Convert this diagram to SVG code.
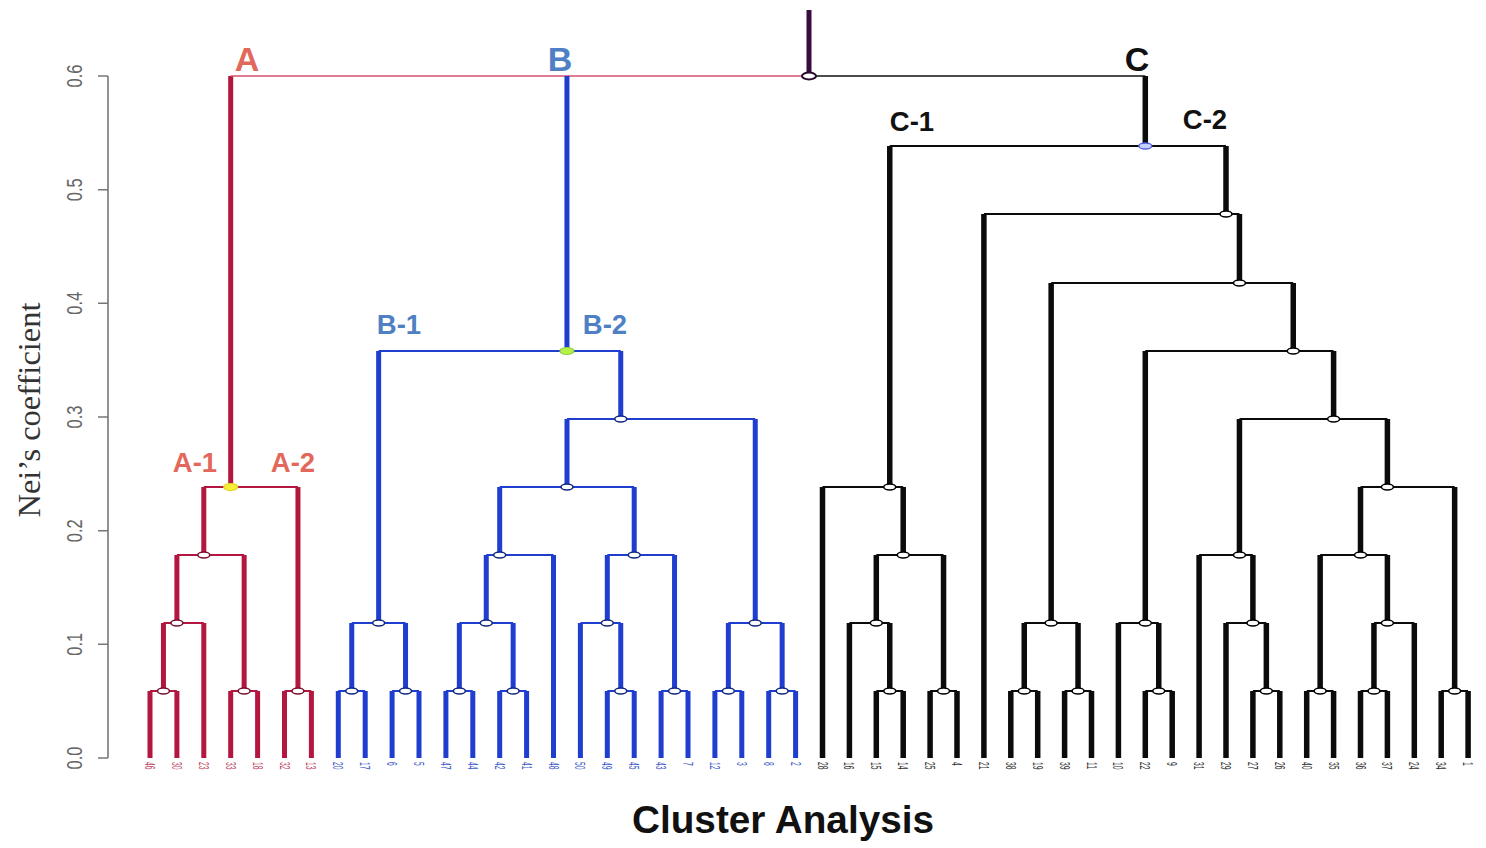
<svg xmlns="http://www.w3.org/2000/svg" width="1486" height="848" viewBox="0 0 1486 848">
<style>
.v{fill:none;stroke-width:5;stroke-linecap:butt}
.h{fill:none;stroke-width:2}
.red{stroke:#b3173f}.blue{stroke:#1f3dcf}.blk{stroke:#0b0b0b;stroke-width:5.5}.blk.h{stroke-width:2}
.mk{stroke-width:1.6}
.mr{fill:#fff;stroke:#7a1030}.mb{fill:#fff;stroke:#13287f}.mk0{fill:#fff;stroke:#000}
.tick{font-family:"Liberation Sans",Arial,sans-serif;font-size:16.5px;fill:#666}
.lf{font-family:"Liberation Sans",Arial,sans-serif;font-size:9px}
.lr{fill:#c04a68}.lb{fill:#3f5cc8}.lk{fill:#333}
.cl{font-family:"Liberation Sans",Arial,sans-serif;font-weight:bold}
</style>
<rect width="1486" height="848" fill="#fff"/>
<g id="axis">
<path d="M108 76V758 M98 76H108 M98 189.7H108 M98 303.3H108 M98 417H108 M98 530.7H108 M98 644.3H108 M98 758H108" fill="none" stroke="#777" stroke-width="1.6"/>
<text class="tick" text-anchor="middle" transform="translate(82,758) rotate(-90) scale(1,1.35)">0.0</text>
<text class="tick" text-anchor="middle" transform="translate(82,644.3) rotate(-90) scale(1,1.35)">0.1</text>
<text class="tick" text-anchor="middle" transform="translate(82,530.7) rotate(-90) scale(1,1.35)">0.2</text>
<text class="tick" text-anchor="middle" transform="translate(82,417) rotate(-90) scale(1,1.35)">0.3</text>
<text class="tick" text-anchor="middle" transform="translate(82,303.3) rotate(-90) scale(1,1.35)">0.4</text>
<text class="tick" text-anchor="middle" transform="translate(82,189.7) rotate(-90) scale(1,1.35)">0.5</text>
<text class="tick" text-anchor="middle" transform="translate(82,76) rotate(-90) scale(1,1.35)">0.6</text>
<text font-family="'Liberation Serif','Times New Roman',serif" font-size="32.5" fill="#333" text-anchor="middle" transform="translate(40,410) rotate(-90)">Nei’s coefficient</text>
</g>
<g id="connectors">
<path class="v red" d="M150 758V691 M176.9 758V691 M163.45 691V623 M203.8 758V623 M176.9 623V555 M230.7 758V691 M257.6 758V691 M244.15 691V555 M203.8 555V487 M284.5 758V691 M311.4 758V691 M297.95 691V487 M230.7 487V76"/>
<path class="h red" d="M150 691H176.9 M163.45 623H203.8 M230.7 691H257.6 M176.9 555H244.15 M284.5 691H311.4 M203.8 487H297.95"/>
<path d="M230.7 76H809" fill="none" stroke="#d4506e" stroke-width="1.6"/>
<path class="v blue" d="M338.3 758V691 M365.2 758V691 M392.1 758V691 M419 758V691 M351.75 691V623 M405.55 691V623 M378.65 623V351 M445.9 758V691 M472.8 758V691 M499.7 758V691 M526.6 758V691 M459.35 691V623 M513.15 691V623 M486.25 623V555 M553.5 758V555 M499.7 555V487 M580.4 758V623 M607.3 758V691 M634.2 758V691 M620.75 691V623 M607.3 623V555 M661.1 758V691 M688 758V691 M674.55 691V555 M634.2 555V487 M567 487V419 M714.9 758V691 M741.8 758V691 M768.7 758V691 M795.6 758V691 M728.35 691V623 M782.15 691V623 M755.25 623V419 M620.75 419V351 M566.95 351V76"/>
<path class="h blue" d="M338.3 691H365.2 M392.1 691H419 M351.75 623H405.55 M445.9 691H472.8 M499.7 691H526.6 M459.35 623H513.15 M486.25 555H553.5 M607.3 691H634.2 M580.4 623H620.75 M661.1 691H688 M607.3 555H674.55 M499.7 487H634.2 M714.9 691H741.8 M768.7 691H795.6 M728.35 623H782.15 M567 419H755.25 M378.65 351H620.75"/>
<path class="v blk" d="M822.5 758V487 M849.4 758V623 M876.3 758V691 M903.2 758V691 M889.75 691V623 M930.1 758V691 M957 758V691 M876.3 623V555 M943.55 691V555 M903.2 555V487 M889.75 487V146 M983.9 758V214 M1010.8 758V691 M1037.7 758V691 M1064.6 758V691 M1091.5 758V691 M1024.25 691V623 M1078.05 691V623 M1051.15 623V283 M1118.4 758V623 M1145.3 758V691 M1172.2 758V691 M1158.75 691V623 M1145.3 623V351 M1199.1 758V555 M1226 758V623 M1252.9 758V691 M1279.8 758V691 M1266.35 691V623 M1252.9 623V555 M1239.45 555V419 M1306.7 758V691 M1333.6 758V691 M1320.15 691V555 M1360.5 758V691 M1387.4 758V691 M1373.95 691V623 M1414.3 758V623 M1387.4 623V555 M1360.5 555V487 M1441.2 758V691 M1468.1 758V691 M1454.65 691V487 M1387.4 487V419 M1333.6 419V351 M1293.25 351V283 M1239.45 283V214 M1226 214V146 M1145.3 146V76"/>
<path class="h blk" d="M822.5 487H903.2 M849.4 623H889.75 M876.3 691H903.2 M930.1 691H957 M876.3 555H943.55 M889.75 146H1226 M1010.8 691H1037.7 M1064.6 691H1091.5 M1024.25 623H1078.05 M1145.3 691H1172.2 M1118.4 623H1158.75 M1252.9 691H1279.8 M1226 623H1266.35 M1199.1 555H1252.9 M1306.7 691H1333.6 M1360.5 691H1387.4 M1373.95 623H1414.3 M1320.15 555H1387.4 M1441.2 691H1468.1 M1360.5 487H1454.65 M1239.45 419H1387.4 M1145.3 351H1333.6 M1051.15 283H1293.25 M983.9 214H1239.45"/>
<path d="M809 76H1145.3" fill="none" stroke="#111" stroke-width="1.6"/>
<path d="M809 76V10" fill="none" stroke="#3a0b3c" stroke-width="5"/>
</g>
<g id="nodes-A">
<ellipse class="mk mr" cx="163.45" cy="691" rx="6" ry="3"/>
<ellipse class="mk mr" cx="176.9" cy="623" rx="6" ry="3"/>
<ellipse class="mk mr" cx="244.15" cy="691" rx="6" ry="3"/>
<ellipse class="mk mr" cx="203.8" cy="555" rx="6" ry="3"/>
<ellipse class="mk mr" cx="297.95" cy="691" rx="6" ry="3"/>
<ellipse cx="230.7" cy="487" rx="7" ry="3.5" fill="#f3ef3a" stroke="#e5d21e" stroke-width="1.2"/>
</g>
<g id="nodes-B">
<ellipse class="mk mb" cx="351.75" cy="691" rx="6" ry="3"/>
<ellipse class="mk mb" cx="405.55" cy="691" rx="6" ry="3"/>
<ellipse class="mk mb" cx="378.65" cy="623" rx="6" ry="3"/>
<ellipse class="mk mb" cx="459.35" cy="691" rx="6" ry="3"/>
<ellipse class="mk mb" cx="513.15" cy="691" rx="6" ry="3"/>
<ellipse class="mk mb" cx="486.25" cy="623" rx="6" ry="3"/>
<ellipse class="mk mb" cx="499.7" cy="555" rx="6" ry="3"/>
<ellipse class="mk mb" cx="620.75" cy="691" rx="6" ry="3"/>
<ellipse class="mk mb" cx="607.3" cy="623" rx="6" ry="3"/>
<ellipse class="mk mb" cx="674.55" cy="691" rx="6" ry="3"/>
<ellipse class="mk mb" cx="634.2" cy="555" rx="6" ry="3"/>
<ellipse class="mk mb" cx="567" cy="487" rx="6" ry="3"/>
<ellipse class="mk mb" cx="728.35" cy="691" rx="6" ry="3"/>
<ellipse class="mk mb" cx="782.15" cy="691" rx="6" ry="3"/>
<ellipse class="mk mb" cx="755.25" cy="623" rx="6" ry="3"/>
<ellipse class="mk mb" cx="620.75" cy="419" rx="6" ry="3"/>
<ellipse cx="566.95" cy="351" rx="7" ry="3.5" fill="#b8f04a" stroke="#8fd33a" stroke-width="1.2"/>
</g>
<g id="nodes-C">
<ellipse class="mk mk0" cx="889.75" cy="691" rx="6" ry="3"/>
<ellipse class="mk mk0" cx="876.3" cy="623" rx="6" ry="3"/>
<ellipse class="mk mk0" cx="943.55" cy="691" rx="6" ry="3"/>
<ellipse class="mk mk0" cx="903.2" cy="555" rx="6" ry="3"/>
<ellipse class="mk mk0" cx="889.75" cy="487" rx="6" ry="3"/>
<ellipse class="mk mk0" cx="1024.25" cy="691" rx="6" ry="3"/>
<ellipse class="mk mk0" cx="1078.05" cy="691" rx="6" ry="3"/>
<ellipse class="mk mk0" cx="1051.15" cy="623" rx="6" ry="3"/>
<ellipse class="mk mk0" cx="1158.75" cy="691" rx="6" ry="3"/>
<ellipse class="mk mk0" cx="1145.3" cy="623" rx="6" ry="3"/>
<ellipse class="mk mk0" cx="1266.35" cy="691" rx="6" ry="3"/>
<ellipse class="mk mk0" cx="1252.9" cy="623" rx="6" ry="3"/>
<ellipse class="mk mk0" cx="1239.45" cy="555" rx="6" ry="3"/>
<ellipse class="mk mk0" cx="1320.15" cy="691" rx="6" ry="3"/>
<ellipse class="mk mk0" cx="1373.95" cy="691" rx="6" ry="3"/>
<ellipse class="mk mk0" cx="1387.4" cy="623" rx="6" ry="3"/>
<ellipse class="mk mk0" cx="1360.5" cy="555" rx="6" ry="3"/>
<ellipse class="mk mk0" cx="1454.65" cy="691" rx="6" ry="3"/>
<ellipse class="mk mk0" cx="1387.4" cy="487" rx="6" ry="3"/>
<ellipse class="mk mk0" cx="1333.6" cy="419" rx="6" ry="3"/>
<ellipse class="mk mk0" cx="1293.25" cy="351" rx="6" ry="3"/>
<ellipse class="mk mk0" cx="1239.45" cy="283" rx="6" ry="3"/>
<ellipse class="mk mk0" cx="1226" cy="214" rx="6" ry="3"/>
<ellipse cx="1145.3" cy="146" rx="6.5" ry="3" fill="#c8d0ff" stroke="#4f5fe0" stroke-width="1.4"/>
</g>
<g id="node-root">
<ellipse cx="809" cy="76" rx="7" ry="3.5" fill="#fff" stroke="#2a0a2c" stroke-width="2"/>
</g>
<g id="cluster-labels" class="cl">
<text x="247" y="71" font-size="34" fill="#e2685c" text-anchor="middle">A</text>
<text x="560" y="71" font-size="34" fill="#4f80c4" text-anchor="middle">B</text>
<text x="1137" y="71" font-size="34" fill="#111" text-anchor="middle">C</text>
<text x="195" y="472" font-size="27.5" fill="#e2685c" text-anchor="middle">A-1</text>
<text x="293" y="472" font-size="27.5" fill="#e2685c" text-anchor="middle">A-2</text>
<text x="399" y="334" font-size="27.5" fill="#4f80c4" text-anchor="middle">B-1</text>
<text x="605" y="334" font-size="27.5" fill="#4f80c4" text-anchor="middle">B-2</text>
<text x="912" y="131" font-size="27.5" fill="#111" text-anchor="middle">C-1</text>
<text x="1205" y="129" font-size="27.5" fill="#111" text-anchor="middle">C-2</text>
</g>
<g id="leaves" class="lf">
<g id="leaf-46"><text class="lr" transform="translate(145,762) rotate(90) scale(0.75,1.6)">46</text></g>
<g id="leaf-30"><text class="lr" transform="translate(171.9,762) rotate(90) scale(0.75,1.6)">30</text></g>
<g id="leaf-23"><text class="lr" transform="translate(198.8,762) rotate(90) scale(0.75,1.6)">23</text></g>
<g id="leaf-33"><text class="lr" transform="translate(225.7,762) rotate(90) scale(0.75,1.6)">33</text></g>
<g id="leaf-18"><text class="lr" transform="translate(252.6,762) rotate(90) scale(0.75,1.6)">18</text></g>
<g id="leaf-32"><text class="lr" transform="translate(279.5,762) rotate(90) scale(0.75,1.6)">32</text></g>
<g id="leaf-13"><text class="lr" transform="translate(306.4,762) rotate(90) scale(0.75,1.6)">13</text></g>
<g id="leaf-20"><text class="lb" transform="translate(333.3,762) rotate(90) scale(0.75,1.6)">20</text></g>
<g id="leaf-17"><text class="lb" transform="translate(360.2,762) rotate(90) scale(0.75,1.6)">17</text></g>
<g id="leaf-6"><text class="lb" transform="translate(387.1,762) rotate(90) scale(0.75,1.6)">6</text></g>
<g id="leaf-5"><text class="lb" transform="translate(414,762) rotate(90) scale(0.75,1.6)">5</text></g>
<g id="leaf-47"><text class="lb" transform="translate(440.9,762) rotate(90) scale(0.75,1.6)">47</text></g>
<g id="leaf-44"><text class="lb" transform="translate(467.8,762) rotate(90) scale(0.75,1.6)">44</text></g>
<g id="leaf-42"><text class="lb" transform="translate(494.7,762) rotate(90) scale(0.75,1.6)">42</text></g>
<g id="leaf-41"><text class="lb" transform="translate(521.6,762) rotate(90) scale(0.75,1.6)">41</text></g>
<g id="leaf-48"><text class="lb" transform="translate(548.5,762) rotate(90) scale(0.75,1.6)">48</text></g>
<g id="leaf-50"><text class="lb" transform="translate(575.4,762) rotate(90) scale(0.75,1.6)">50</text></g>
<g id="leaf-49"><text class="lb" transform="translate(602.3,762) rotate(90) scale(0.75,1.6)">49</text></g>
<g id="leaf-45"><text class="lb" transform="translate(629.2,762) rotate(90) scale(0.75,1.6)">45</text></g>
<g id="leaf-43"><text class="lb" transform="translate(656.1,762) rotate(90) scale(0.75,1.6)">43</text></g>
<g id="leaf-7"><text class="lb" transform="translate(683,762) rotate(90) scale(0.75,1.6)">7</text></g>
<g id="leaf-12"><text class="lb" transform="translate(709.9,762) rotate(90) scale(0.75,1.6)">12</text></g>
<g id="leaf-3"><text class="lb" transform="translate(736.8,762) rotate(90) scale(0.75,1.6)">3</text></g>
<g id="leaf-8"><text class="lb" transform="translate(763.7,762) rotate(90) scale(0.75,1.6)">8</text></g>
<g id="leaf-2"><text class="lb" transform="translate(790.6,762) rotate(90) scale(0.75,1.6)">2</text></g>
<g id="leaf-28"><text class="lk" transform="translate(817.5,762) rotate(90) scale(0.75,1.6)">28</text></g>
<g id="leaf-16"><text class="lk" transform="translate(844.4,762) rotate(90) scale(0.75,1.6)">16</text></g>
<g id="leaf-15"><text class="lk" transform="translate(871.3,762) rotate(90) scale(0.75,1.6)">15</text></g>
<g id="leaf-14"><text class="lk" transform="translate(898.2,762) rotate(90) scale(0.75,1.6)">14</text></g>
<g id="leaf-25"><text class="lk" transform="translate(925.1,762) rotate(90) scale(0.75,1.6)">25</text></g>
<g id="leaf-4"><text class="lk" transform="translate(952,762) rotate(90) scale(0.75,1.6)">4</text></g>
<g id="leaf-21"><text class="lk" transform="translate(978.9,762) rotate(90) scale(0.75,1.6)">21</text></g>
<g id="leaf-38"><text class="lk" transform="translate(1005.8,762) rotate(90) scale(0.75,1.6)">38</text></g>
<g id="leaf-19"><text class="lk" transform="translate(1032.7,762) rotate(90) scale(0.75,1.6)">19</text></g>
<g id="leaf-39"><text class="lk" transform="translate(1059.6,762) rotate(90) scale(0.75,1.6)">39</text></g>
<g id="leaf-11"><text class="lk" transform="translate(1086.5,762) rotate(90) scale(0.75,1.6)">11</text></g>
<g id="leaf-10"><text class="lk" transform="translate(1113.4,762) rotate(90) scale(0.75,1.6)">10</text></g>
<g id="leaf-22"><text class="lk" transform="translate(1140.3,762) rotate(90) scale(0.75,1.6)">22</text></g>
<g id="leaf-9"><text class="lk" transform="translate(1167.2,762) rotate(90) scale(0.75,1.6)">9</text></g>
<g id="leaf-31"><text class="lk" transform="translate(1194.1,762) rotate(90) scale(0.75,1.6)">31</text></g>
<g id="leaf-29"><text class="lk" transform="translate(1221,762) rotate(90) scale(0.75,1.6)">29</text></g>
<g id="leaf-27"><text class="lk" transform="translate(1247.9,762) rotate(90) scale(0.75,1.6)">27</text></g>
<g id="leaf-26"><text class="lk" transform="translate(1274.8,762) rotate(90) scale(0.75,1.6)">26</text></g>
<g id="leaf-40"><text class="lk" transform="translate(1301.7,762) rotate(90) scale(0.75,1.6)">40</text></g>
<g id="leaf-35"><text class="lk" transform="translate(1328.6,762) rotate(90) scale(0.75,1.6)">35</text></g>
<g id="leaf-36"><text class="lk" transform="translate(1355.5,762) rotate(90) scale(0.75,1.6)">36</text></g>
<g id="leaf-37"><text class="lk" transform="translate(1382.4,762) rotate(90) scale(0.75,1.6)">37</text></g>
<g id="leaf-24"><text class="lk" transform="translate(1409.3,762) rotate(90) scale(0.75,1.6)">24</text></g>
<g id="leaf-34"><text class="lk" transform="translate(1436.2,762) rotate(90) scale(0.75,1.6)">34</text></g>
<g id="leaf-1"><text class="lk" transform="translate(1463.1,762) rotate(90) scale(0.75,1.6)">1</text></g>
</g>
<g id="title">
<text x="783" y="833" class="cl" font-size="38" fill="#111" text-anchor="middle" textLength="302" lengthAdjust="spacingAndGlyphs">Cluster Analysis</text>
</g>
</svg>
